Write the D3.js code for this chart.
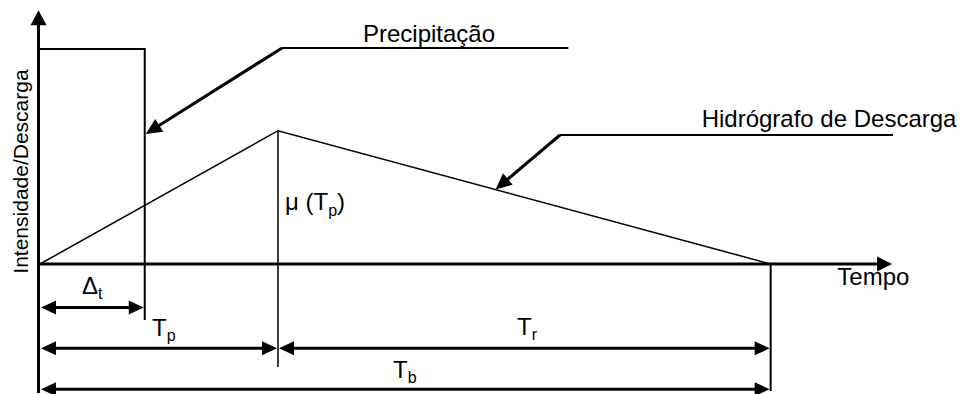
<!DOCTYPE html>
<html>
<head>
<meta charset="utf-8">
<script src="https://cdn.jsdelivr.net/npm/d3@7"></script>
<style>
  body { margin: 0; background: #fff; }
  text { font-family: "Liberation Sans", Arial, sans-serif; fill: #000; }
</style>
</head>
<body>
<svg id="chart" width="963" height="394"></svg>
<script>
// ---- data (time in units of Tp, intensity relative to rainfall) ----
const rainT = [0, 0.44];          // rainfall block: 0 .. Δt
const rainI = [1.0, 1.0];
const hydroT = [0, 1.0, 3.07];    // triangular hydrograph: start, Tp, Tb
const hydroQ = [0, 0.62, 0];
const dimNames = ["Δt", "Tp", "Tr", "Tb"];
const dimStart = [0, 0, 1.0, 0];
const dimEnd = [0.44, 1.0, 3.07, 3.07];
const dimLevel = [-0.2, -0.39, -0.39, -0.58];
const axisMax = [3.58, 1.18];     // arrow tips of time / intensity axes

const width = 963, height = 394;
const svg = d3.select('#chart');

const x = d3.scaleLinear().domain([0, 1]).range([40, 278]);
const y = d3.scaleLinear().domain([0, 1]).range([264, 49]);

// arrowhead helper: tip at (tx,ty), pointing along angle
function arrowHead(tx, ty, ang, len, half) {
    const bx = tx - len * Math.cos(ang), by = ty - len * Math.sin(ang);
    const nx = -Math.sin(ang) * half, ny = Math.cos(ang) * half;
    return `M${tx},${ty}L${bx + nx},${by + ny}L${bx - nx},${by - ny}Z`;
}

const line = d3.line().x(d => x(d[0])).y(d => y(d[1]));

// ---- axes ----
svg.append('line')
    .attr('x1', x(0) - 1.5).attr('x2', x(0) - 1.5)
    .attr('y1', 393).attr('y2', y(axisMax[1]) + 10)
    .attr('stroke', '#000').attr('stroke-width', 3);
svg.append('path')
    .attr('d', arrowHead(x(0) - 1.5, y(axisMax[1]), -Math.PI / 2, 15, 8));

svg.append('line')
    .attr('x1', x(0) - 3).attr('x2', x(axisMax[0]) - 10)
    .attr('y1', y(0)).attr('y2', y(0))
    .attr('stroke', '#000').attr('stroke-width', 3);
svg.append('path')
    .attr('d', arrowHead(x(axisMax[0]), y(0), 0, 15, 7.5));

svg.append('text')
    .attr('transform', `translate(28,${(70 + 273) / 2}) rotate(-90)`)
    .attr('text-anchor', 'middle')
    .style('font-size', '21px')
    .text('Intensidade/Descarga');

svg.append('text')
    .attr('x', x(3.35)).attr('y', 285)
    .style('font-size', '24px')
    .text('Tempo');

// ---- rainfall block ----
svg.append('path')
    .attr('d', line([[rainT[0], rainI[0]], [rainT[1], rainI[1]]]) +
        `L${x(rainT[1])},320`)
    .attr('fill', 'none').attr('stroke', '#000').attr('stroke-width', 2);

// ---- hydrograph ----
svg.append('path')
    .attr('d', line(hydroT.map((t, i) => [t, hydroQ[i]])))
    .attr('fill', 'none').attr('stroke', '#000').attr('stroke-width', 1.5);

// vertical guides at Tp and Tb
svg.append('line')
    .attr('x1', x(hydroT[1])).attr('x2', x(hydroT[1]))
    .attr('y1', y(hydroQ[1])).attr('y2', 367)
    .attr('stroke', '#000').attr('stroke-width', 1.5);
svg.append('line')
    .attr('x1', x(hydroT[2])).attr('x2', x(hydroT[2]))
    .attr('y1', y(0)).attr('y2', 391)
    .attr('stroke', '#000').attr('stroke-width', 2);

// μ (Tp) label
const mu = svg.append('text')
    .attr('x', x(hydroT[1]) + 7).attr('y', 210)
    .style('font-size', '24px');
mu.append('tspan').text('μ (T');
mu.append('tspan').attr('dy', 6).style('font-size', '16px').text('p');
mu.append('tspan').attr('dy', -6).text(')');

// ---- dimension arrows ----
const dimLabelPos = [[82, 294], [152, 336], [517, 335], [393, 378]];
const subs = ['t', 'p', 'r', 'b'];
dimNames.forEach((name, i) => {
    const x0 = x(dimStart[i]), x1 = x(dimEnd[i]), yy = y(dimLevel[i]) + 0.5;
    svg.append('line')
        .attr('x1', x0 + 10).attr('x2', x1 - 10)
        .attr('y1', yy).attr('y2', yy)
        .attr('stroke', '#000').attr('stroke-width', 3);
    svg.append('path').attr('d', arrowHead(x0 + 1, yy, Math.PI, 15, 7));
    svg.append('path').attr('d', arrowHead(x1 - 1, yy, 0, 15, 7));

    const t = svg.append('text')
        .attr('x', dimLabelPos[i][0]).attr('y', dimLabelPos[i][1])
        .style('font-size', '24px');
    t.append('tspan').text(name[0]);
    t.append('tspan').attr('dy', 5).style('font-size', '16px').text(subs[i]);
});

// ---- callouts ----
const callouts = [
    { label: 'Precipitação', tip: [0.44, 0.605], elbow: [1.017, 1.005], end: 2.22, text: [1.357, 1.033] },
    { label: 'Hidrógrafo de Descarga', tip: [1.91, 0.347], elbow: [2.185, 0.6], end: 3.584, text: [2.78, 0.637] }
];
callouts.forEach(c => {
    const tx = x(c.tip[0]) + 1, ty = y(c.tip[1]);
    const ex = x(c.elbow[0]), ey = y(c.elbow[1]);
    const ang = Math.atan2(ty - ey, tx - ex);
    svg.append('line')
        .attr('x1', x(c.end)).attr('x2', ex)
        .attr('y1', ey).attr('y2', ey)
        .attr('stroke', '#000').attr('stroke-width', 2);
    svg.append('line')
        .attr('x1', ex).attr('y1', ey)
        .attr('x2', tx - 12 * Math.cos(ang)).attr('y2', ty - 12 * Math.sin(ang))
        .attr('stroke', '#000').attr('stroke-width', 3);
    svg.append('path').attr('d', arrowHead(tx, ty, ang, 16, 7.5));
    svg.append('text')
        .attr('x', x(c.text[0])).attr('y', y(c.text[1]))
        .style('font-size', '24px')
        .text(c.label);
});
</script>
</body>
</html>
